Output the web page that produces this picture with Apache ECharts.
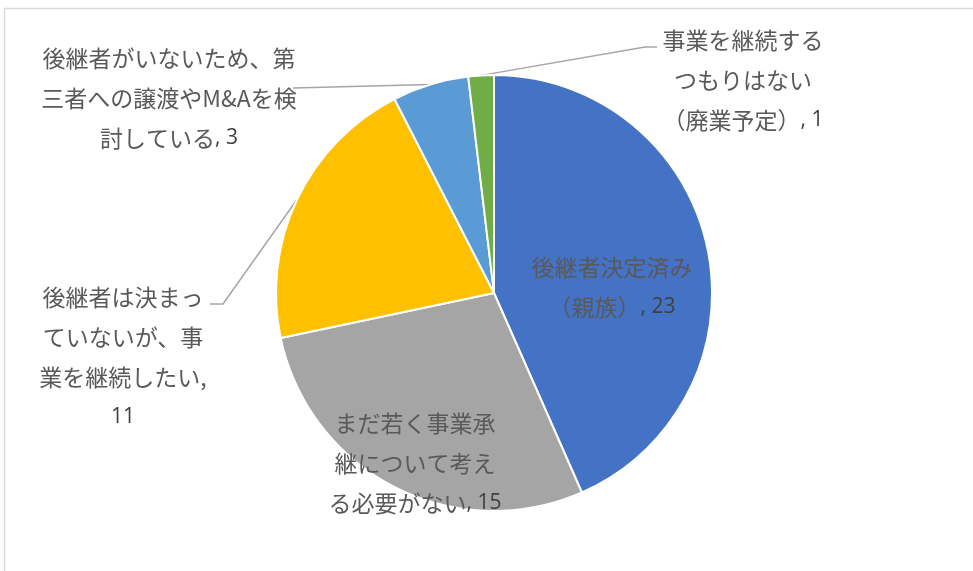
<!DOCTYPE html>
<html>
<head>
<meta charset="utf-8">
<script src="https://cdn.jsdelivr.net/npm/echarts@6/dist/echarts.min.js"></script>
<style>
  html, body { margin: 0; padding: 0; background: #fff; }
  #chart { width: 973px; height: 571px; }
</style>
</head>
<body>
<div id="chart"></div>
<script>
const categories = [
  '後継者決定済み（親族）',
  'まだ若く事業承継について考える必要がない',
  '後継者は決まっていないが、事業を継続したい',
  '後継者がいないため、第三者への譲渡やM&Aを検討している',
  '事業を継続するつもりはない（廃業予定）'
]
const values = [23, 15, 11, 3, 1]
// Excel の折り返し位置
const labelLines = [
  ['後継者決定済み', '（親族）'],
  ['まだ若く事業承', '継について考え', 'る必要がない'],
  ['後継者は決まっ', 'ていないが、事', '業を継続したい'],
  ['後継者がいないため、第', '三者への譲渡やM&Aを検', '討している'],
  ['事業を継続する', 'つもりはない', '（廃業予定）']
]
const colors = ['#4472C4', '#A5A5A5', '#FFC000', '#5B9BD5', '#70AD47']

// ラベル位置（中心x, 上端y）
const labelPos = [
  [612, 247],
  [415, 403],
  [123, 277],
  [169, 38],
  [743, 20]
]
// 引き出し線の折れ点（扇形側の始点は ECharts が計算）
const leaderEnds = [
  null,
  null,
  [[223, 304], [210, 304]],
  [[293, 88], [293, 88]],
  [[645, 47], [657, 47]]
]

const chart = echarts.init(document.getElementById('chart'))

const data = categories.map((name, i) => {
  const inside = i < 2
  return {
    name,
    value: values[i],
    itemStyle: { color: colors[i] },
    label: { position: inside ? 'inside' : 'outside' },
    labelLine: { show: !inside }
  }
})

const jpFont = '"Noto Sans CJK JP", sans-serif'

chart.setOption({
  animation: false,
  backgroundColor: '#fff',
  graphic: [{
    type: 'rect',
    shape: { x: 4.5, y: 8.5, width: 1000, height: 600 },
    style: { fill: 'none', stroke: '#D9D9D9', lineWidth: 1.5 },
    silent: true
  }],
  series: [{
    type: 'pie',
    center: [494, 293],
    radius: [0, 218],
    startAngle: 90,
    clockwise: true,
    data,
    itemStyle: { borderColor: '#fff', borderWidth: 2 },
    label: {
      fontFamily: jpFont,
      fontSize: 23,
      lineHeight: 40,
      color: '#595959',
      align: 'center',
      formatter: (p) => {
        const lines = labelLines[p.dataIndex].slice()
        const last = lines.length - 1
        if (p.dataIndex === 2) {
          lines[last] = lines[last] + ','
          return lines.map(l => '{t|' + l + '}').join('\n') + '\n{n|' + p.value + '}'
        }
        return lines.map((l, k) => k === last
          ? '{t|' + l + '}{n|, ' + p.value + '}'
          : '{t|' + l + '}').join('\n')
      },
      rich: {
        t: { fontSize: 23, lineHeight: 40, color: '#595959', fontFamily: jpFont },
        n: { fontSize: 21, lineHeight: 40, color: '#404040', fontFamily: 'Open Sans' }
      }
    },
    labelLine: {
      length: 20,
      length2: 10,
      lineStyle: { color: '#A6A6A6', width: 1.5 }
    },
    labelLayout: (params) => {
      const i = params.dataIndex
      const p = labelPos[i]
      const out = {
        x: p[0],
        y: p[1],
        align: 'center',
        verticalAlign: 'top'
      }
      if (leaderEnds[i] && params.labelLinePoints) {
        out.labelLinePoints = [params.labelLinePoints[0]].concat(leaderEnds[i])
      }
      return out
    }
  }]
})
</script>
</body>
</html>
